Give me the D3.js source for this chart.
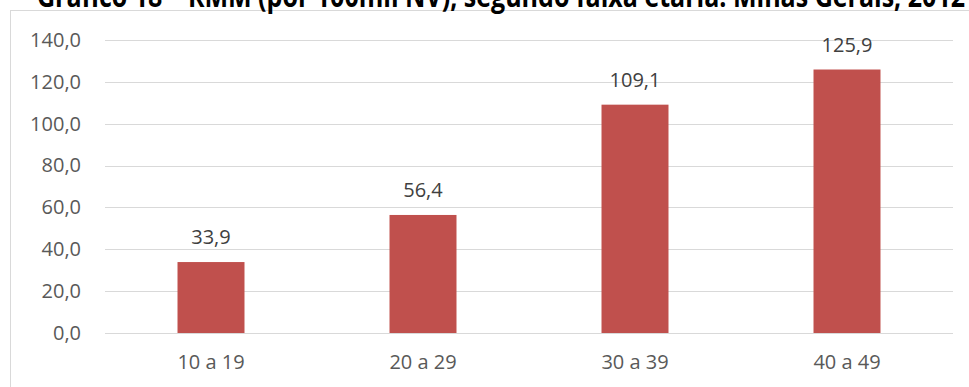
<!DOCTYPE html>
<html>
<head>
<meta charset="utf-8">
<script src="https://cdn.jsdelivr.net/npm/d3@7"></script>
<style>
  body { margin: 0; background: #fff; }
  text { font-family: "Open Sans", sans-serif; }
</style>
</head>
<body>
<div id="chart"></div>
<script>
// Data
var title = "Gráfico 18 – RMM (por 100mil NV), segundo faixa etária. Minas Gerais, 2012";
var faixas = ["10 a 19", "20 a 29", "30 a 39", "40 a 49"];
var rmm = [33.9, 56.4, 109.1, 125.9];
var yTicks = [0, 20, 40, 60, 80, 100, 120, 140];

var svgWidth = 969, svgHeight = 387;
var margin = {top: 40, right: 16, bottom: 54, left: 105};
var width = svgWidth - margin.left - margin.right;
var height = svgHeight - margin.top - margin.bottom;

var fmt = function(v) { return d3.format(".1f")(v).replace(".", ","); };

var svg = d3.select("#chart").append("svg")
  .attr("width", svgWidth)
  .attr("height", svgHeight);

// chart border (right and bottom edges fall outside the picture)
svg.append("rect")
  .attr("x", 10.5).attr("y", 10.5)
  .attr("width", svgWidth + 10).attr("height", svgHeight)
  .attr("fill", "none")
  .attr("stroke", "#d9d9d9");

// title, cut off at the top like the reference
svg.append("text")
  .attr("x", 37).attr("y", 7)
  .attr("font-family", "Lato, sans-serif")
  .attr("font-size", 30)
  .attr("font-weight", "bold")
  .attr("fill", "#000")
  .attr("textLength", 928)
  .attr("lengthAdjust", "spacingAndGlyphs")
  .text(title);

var g = svg.append("g")
  .attr("transform", `translate(${margin.left}, ${margin.top})`);

var x = d3.scaleBand().domain(faixas).range([0, width]).paddingInner(0.684).paddingOuter(0.342);
var y = d3.scaleLinear().domain([0, 140]).range([height, 0]);

// gridlines
g.selectAll("line.grid").data(yTicks).enter()
  .append("line")
  .attr("class", "grid")
  .attr("x1", 0).attr("x2", width)
  .attr("y1", d => Math.round(y(d)) + 0.5)
  .attr("y2", d => Math.round(y(d)) + 0.5)
  .attr("stroke", "#d9d9d9")
  .attr("stroke-width", 1);

// y axis labels
var yAxis = d3.axisLeft(y).tickValues(yTicks).tickFormat(fmt).tickSize(0).tickPadding(24);
var yg = g.append("g").call(yAxis);
yg.select(".domain").remove();
yg.selectAll("text").attr("font-size", 20).attr("fill", "#595959")
  .attr("font-family", "'Open Sans', sans-serif");

// x axis labels
var xAxis = d3.axisBottom(x).tickSize(0).tickPadding(22);
var xg = g.append("g").attr("transform", `translate(0, ${height})`).call(xAxis);
xg.select(".domain").remove();
xg.selectAll("text").attr("font-size", 20).attr("fill", "#595959")
  .attr("font-family", "'Open Sans', sans-serif");

// bars
g.selectAll("rect.bar").data(rmm).enter()
  .append("rect")
  .attr("class", "bar")
  .attr("x", (d, i) => x(faixas[i]))
  .attr("y", d => y(d))
  .attr("width", x.bandwidth())
  .attr("height", d => height - y(d))
  .attr("fill", "#c0504d");

// data labels
g.selectAll("text.val").data(rmm).enter()
  .append("text")
  .attr("class", "val")
  .attr("x", (d, i) => x(faixas[i]) + x.bandwidth() / 2)
  .attr("y", d => y(d) - 18)
  .attr("text-anchor", "middle")
  .attr("font-size", 20)
  .attr("fill", "#404040")
  .text(fmt);
</script>
</body>
</html>
